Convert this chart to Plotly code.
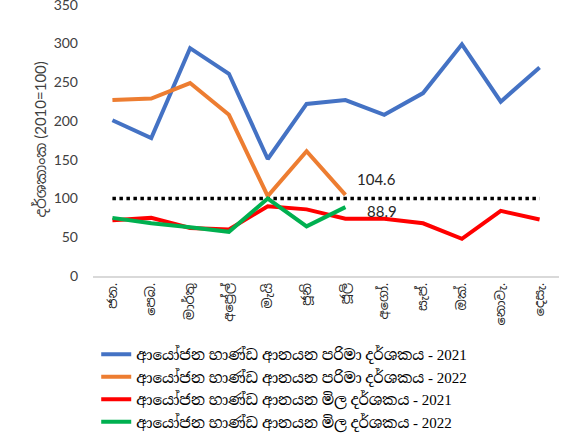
import plotly.graph_objects as go

months = ["ජන.", "පෙබ.", "මාර්තු", "අප්‍රේල්", "මැයි", "ජූනි", "ජූලි",
          "අගෝ.", "සැප්.", "ඔක්.", "නොවැ.", "දෙසැ."]

vol_2021 = [201, 178, 294, 261, 151, 222, 227, 208, 236, 299, 225, 269]
vol_2022 = [227, 229, 249, 208, 103, 161, 104.6]
price_2021 = [72, 75, 62, 60, 90, 86, 74, 74, 68, 48, 84, 73]
price_2022 = [75, 68, 63, 57, 100, 64, 88.9]
base_line = [100] * 12

names = [
    "ආයෝජන භාණ්ඩ ආනයන පරිමා දර්ශකය - 2021",
    "ආයෝජන භාණ්ඩ ආනයන පරිමා දර්ශකය - 2022",
    "ආයෝජන භාණ්ඩ ආනයන මිල දර්ශකය - 2021",
    "ආයෝජන භාණ්ඩ ආනයන මිල දර්ශකය - 2022",
]
y_title = "දර්ශකාංක (2010=100)"
colors = ["#4472C4", "#ED7D31", "#FF0000", "#00B050"]
series = [vol_2021, vol_2022, price_2021, price_2022]

fig = go.Figure()
fig.add_trace(go.Scatter(x=months, y=base_line, mode="lines",
                         line=dict(color="black", width=3.5, dash="dot"),
                         showlegend=False, hoverinfo="skip"))
for name, col, vals in zip(names, colors, series):
    fig.add_trace(go.Scatter(x=months[:len(vals)], y=vals, mode="lines", name=name,
                             line=dict(color=col, width=4)))

fig.add_annotation(x=months[6], y=vol_2022[6], text="104.6", showarrow=False,
                   xshift=31, yshift=16, font=dict(family="Lato", size=15, color="#262626"))
fig.add_annotation(x=months[6], y=price_2022[6], text="88.9", showarrow=False,
                   xshift=37, yshift=-4, font=dict(family="Lato", size=15, color="#262626"))
fig.add_annotation(xref="paper", yref="paper", x=0, y=0.5, xshift=-65,
                   text=y_title, textangle=-90, showarrow=False,
                   font=dict(size=15, color="#404040"))

fig.update_layout(
    width=566, height=436,
    margin=dict(l=93, r=7, t=4, b=160, autoexpand=False),
    plot_bgcolor="white", paper_bgcolor="white",
    font=dict(family="Lato, 'Noto Sans Sinhala', sans-serif", color="#404040"),
    xaxis=dict(tickangle=-90, tickfont=dict(size=13, color="#262626"),
               showgrid=False, showline=True, linecolor="#D9D9D9", linewidth=1.5,
               ticks="", range=[-0.5, 11.5], automargin=False),
    yaxis=dict(range=[0, 351], tickvals=[0, 50, 100, 150, 200, 250, 300, 350],
               showgrid=False, zeroline=False, automargin=False,
               ticklabeloverflow="allow",
               tickfont=dict(size=14, color="#404040"), ticklabelstandoff=14),
    legend=dict(orientation="v", xref="container", yref="container",
                x=0.17, xanchor="left", y=0.225, yanchor="top",
                font=dict(family="'Liberation Serif', 'Noto Serif Sinhala', serif", size=15, color="#000000"),
                tracegroupgap=0, itemwidth=30),
)

fig.write_html("out.html", config={"displayModeBar": False},
               post_script="document.body.style.margin='0px';")
